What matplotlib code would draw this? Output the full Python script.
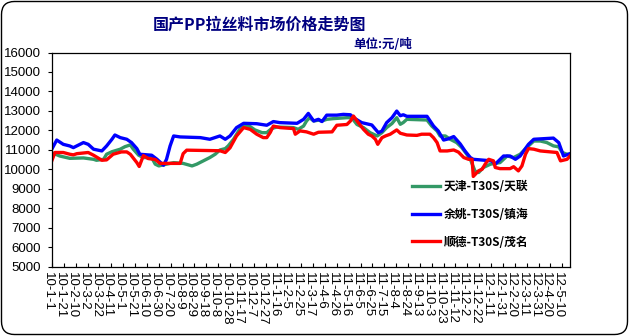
import numpy as np
import matplotlib
matplotlib.use('Agg')
import matplotlib.pyplot as plt
import matplotlib.transforms as mtransforms
from matplotlib.patches import FancyBboxPatch
import pandas as pd

cjk = ['Noto Sans CJK SC', 'DejaVu Sans']

tick_labels = ['10-1-1', '10-1-21', '10-2-10', '10-3-2', '10-3-22', '10-4-11', '10-5-1',
               '10-5-21', '10-6-10', '10-6-30', '10-7-20', '10-8-9', '10-8-29', '10-9-18',
               '10-10-8', '10-10-28', '10-11-17', '10-12-7', '10-12-27', '11-1-16', '11-2-5',
               '11-2-25', '11-3-17', '11-4-6', '11-4-26', '11-5-16', '11-6-5', '11-6-25',
               '11-7-15', '11-8-4', '11-8-24', '11-9-13', '11-10-3', '11-10-23', '11-11-12',
               '11-12-2', '11-12-22', '12-1-11', '12-1-31', '12-2-20', '12-3-11', '12-3-31',
               '12-4-20', '12-5-10']

# 天津 T30S / 天联
tj_dates = ['2010-01-01', '2010-01-14', '2010-01-31', '2010-02-23', '2010-03-12', '2010-03-17',
            '2010-03-29', '2010-04-03', '2010-04-12', '2010-04-26', '2010-05-04', '2010-05-13',
            '2010-05-18', '2010-05-27', '2010-06-04', '2010-06-18', '2010-06-24', '2010-06-30',
            '2010-07-13', '2010-07-25', '2010-08-10', '2010-08-25', '2010-09-02', '2010-09-13',
            '2010-09-24', '2010-10-03', '2010-10-11', '2010-10-20', '2010-10-25', '2010-11-03',
            '2010-11-14', '2010-11-20', '2010-12-01', '2010-12-09', '2010-12-21', '2010-12-29',
            '2011-01-06', '2011-01-15', '2011-02-12', '2011-02-20', '2011-03-01', '2011-03-06',
            '2011-03-11', '2011-03-18', '2011-03-26', '2011-04-01', '2011-04-09', '2011-04-20',
            '2011-05-13', '2011-05-21', '2011-05-30', '2011-06-10', '2011-06-21', '2011-07-03',
            '2011-07-11', '2011-07-19', '2011-07-28', '2011-08-05', '2011-08-11', '2011-08-16',
            '2011-08-22', '2011-09-25', '2011-10-03', '2011-10-12', '2011-10-17', '2011-10-26',
            '2011-11-03', '2011-11-14', '2011-11-23', '2011-12-01', '2011-12-07', '2011-12-15',
            '2011-12-21', '2011-12-29', '2012-01-10', '2012-01-26', '2012-02-07', '2012-02-18',
            '2012-02-29', '2012-03-11', '2012-03-23', '2012-04-03', '2012-04-14', '2012-04-25',
            '2012-05-04', '2012-05-10', '2012-05-18', '2012-05-23']
tj_prices = [10850, 10680, 10560, 10580, 10510, 10460,
             10510, 10770, 10900, 11030, 11160, 11250,
             11030, 10720, 10600, 10600, 10260, 10170,
             10260, 10340, 10300, 10170, 10260, 10430,
             10600, 10770, 10990, 11060, 11200, 11540,
             12090, 12190, 12190, 12020, 11880, 11880,
             12090, 12170, 12140, 12050, 12220, 12480,
             12650, 12480, 12520, 12480, 12565, 12600,
             12650, 12650, 12300, 12140, 11880, 11710,
             11880, 12140, 12350, 12650, 12310, 12400,
             12565, 12530, 12220, 11965, 11710, 11710,
             11540, 11370, 11100, 10770, 10510, 9900,
             9830, 10090, 10260, 10340, 10680, 10600,
             10770, 11110, 11450, 11450, 11370, 11200,
             11150, 10860, 10770, 10770]

# 余姚 T30S / 镇海
yy_dates = ['2010-01-01', '2010-01-09', '2010-01-20', '2010-01-31', '2010-02-06', '2010-02-23',
            '2010-03-03', '2010-03-12', '2010-03-26', '2010-04-03', '2010-04-12', '2010-04-17',
            '2010-04-26', '2010-05-07', '2010-05-15', '2010-05-24', '2010-05-29', '2010-06-18',
            '2010-06-27', '2010-07-08', '2010-07-13', '2010-07-19', '2010-07-25', '2010-08-05',
            '2010-09-08', '2010-09-24', '2010-10-11', '2010-10-20', '2010-10-28', '2010-11-08',
            '2010-11-20', '2010-12-12', '2010-12-29', '2011-01-09', '2011-01-20', '2011-02-18',
            '2011-03-01', '2011-03-09', '2011-03-18', '2011-03-26', '2011-04-01', '2011-04-09',
            '2011-04-26', '2011-05-07', '2011-05-19', '2011-05-24', '2011-06-07', '2011-06-24',
            '2011-07-05', '2011-07-11', '2011-07-19', '2011-07-28', '2011-08-05', '2011-08-11',
            '2011-08-16', '2011-08-22', '2011-09-25', '2011-10-06', '2011-10-14', '2011-10-23',
            '2011-10-31', '2011-11-09', '2011-11-20', '2011-11-28', '2011-12-07', '2011-12-12',
            '2012-01-12', '2012-01-18', '2012-02-01', '2012-02-12', '2012-02-21', '2012-02-29',
            '2012-03-06', '2012-03-14', '2012-03-23', '2012-04-25', '2012-05-04', '2012-05-10',
            '2012-05-12', '2012-05-23']
yy_prices = [11050, 11500, 11280, 11195, 11110, 11370,
             11280, 11030, 10940, 11195, 11540, 11760,
             11625, 11540, 11370, 11060, 10770, 10720,
             10510, 10205, 10510, 11195, 11710, 11660,
             11625, 11540, 11710, 11540, 11710, 12140,
             12360, 12340, 12260, 12450, 12395, 12360,
             12565, 12870, 12480, 12565, 12450, 12780,
             12780, 12820, 12800, 12650, 12395, 12275,
             11880, 11960, 12395, 12650, 12990, 12750,
             12800, 12720, 12720, 12220, 11965, 11500,
             11560, 11680, 11300, 10940, 10600, 10510,
             10430, 10260, 10680, 10680, 10510, 10680,
             10940, 11280, 11540, 11600, 11370, 10860,
             10680, 10800]

# 顺德 T30S / 茂名
sd_dates = ['2010-01-01', '2010-01-06', '2010-01-20', '2010-01-31', '2010-02-06', '2010-02-12',
            '2010-03-03', '2010-03-12', '2010-03-26', '2010-04-03', '2010-04-14', '2010-04-28',
            '2010-05-07', '2010-05-13', '2010-05-24', '2010-05-28', '2010-06-04', '2010-06-12',
            '2010-06-24', '2010-07-02', '2010-08-05', '2010-08-10', '2010-08-16', '2010-10-11',
            '2010-10-20', '2010-10-28', '2010-11-08', '2010-11-20', '2010-12-01', '2010-12-12',
            '2010-12-23', '2010-12-29', '2011-01-04', '2011-01-09', '2011-01-20', '2011-02-12',
            '2011-02-15', '2011-02-23', '2011-03-06', '2011-03-18', '2011-03-26', '2011-04-18',
            '2011-04-26', '2011-05-13', '2011-05-19', '2011-05-24', '2011-06-01', '2011-06-10',
            '2011-06-18', '2011-06-24', '2011-06-30', '2011-07-04', '2011-07-11', '2011-07-17',
            '2011-07-25', '2011-08-05', '2011-08-11', '2011-08-22', '2011-09-08', '2011-09-16',
            '2011-09-30', '2011-10-06', '2011-10-12', '2011-10-17', '2011-10-29', '2011-11-09',
            '2011-11-17', '2011-11-26', '2011-12-04', '2011-12-10', '2011-12-12', '2011-12-21',
            '2011-12-27', '2012-01-01', '2012-01-07', '2012-01-15', '2012-01-18', '2012-01-26',
            '2012-02-12', '2012-02-18', '2012-02-26', '2012-03-03', '2012-03-09', '2012-03-14',
            '2012-03-23', '2012-04-03', '2012-05-01', '2012-05-07', '2012-05-18', '2012-05-23']
sd_prices = [10460, 10860, 10860, 10770, 10740, 10800,
             10860, 10720, 10460, 10480, 10770, 10890,
             10890, 10770, 10340, 10140, 10700, 10550,
             10500, 10300, 10300, 10800, 10980, 10950,
             10860, 11100, 11710, 12140, 12050, 11800,
             11625, 11625, 11900, 12220, 12140, 12090,
             11800, 11970, 11920, 11800, 11900, 11920,
             12260, 12300, 12480, 12735, 12400, 12050,
             11800, 11710, 11540, 11280, 11620, 11710,
             11800, 12020, 11850, 11760, 11740, 11800,
             11800, 11620, 11370, 10940, 10940, 10990,
             10880, 10600, 10510, 10510, 9630, 9920,
             10000, 10260, 10510, 10430, 10090, 10030,
             10030, 10130, 9915, 10170, 10770, 11060,
             11030, 10940, 10860, 10430, 10510, 10680]

start = pd.Timestamp('2010-01-01')


def to_days(dates):
    return np.array([(pd.Timestamp(d) - start).days for d in dates])


tick_days = [(pd.Timestamp('20' + s) - start).days for s in tick_labels]

fig = plt.figure(figsize=(6.29, 3.36), dpi=100)
ax = fig.add_axes([52 / 629, 1 - 266.5 / 336, 518 / 629, 214 / 336])

ax.plot(to_days(tj_dates), tj_prices, color='#339966', lw=2.4, label='天津-T30S/天联')
ax.plot(to_days(yy_dates), yy_prices, color='#0000FF', lw=2.4, label='余姚-T30S/镇海')
ax.plot(to_days(sd_dates), sd_prices, color='#FF0000', lw=2.4, label='顺德-T30S/茂名')

ax.set_xlim(0, 873)
ax.set_ylim(5000, 16000)
ax.set_yticks(np.arange(5000, 16001, 1000))
ax.set_xticks(tick_days)
ax.set_xticklabels(tick_labels, rotation=-90, fontsize=9.5, family='Liberation Sans')
for lab in ax.get_yticklabels():
    lab.set_family('Liberation Sans')
    lab.set_fontsize(9.5)
ax.tick_params(axis='x', direction='in', length=3, width=0.8, pad=4)
ax.tick_params(axis='y', direction='out', length=3, width=0.8, pad=5)

# nudge date labels a little to the left
shift = mtransforms.ScaledTranslation(-0.04, 0, fig.dpi_scale_trans)
for lab in ax.get_xticklabels():
    lab.set_transform(lab.get_transform() + shift)

for sp in ax.spines.values():
    sp.set_linewidth(0.9)
    sp.set_color('black')

ax.legend(loc='upper left', bbox_to_anchor=(412 / 629, 1 - 180 / 336), bbox_transform=fig.transFigure,
          frameon=False, borderpad=0, borderaxespad=0, handlelength=2.4, handletextpad=0.3,
          labelspacing=1.25, prop=dict(family=cjk, weight='bold', size=8.5))

fig.text(260 / 629, 1 - 25 / 336, '国产PP拉丝料市场价格走势图', ha='center', va='center',
         color='#000080', fontsize=11.5, fontweight='bold', family=cjk)
fig.text(353 / 629, 1 - 45 / 336, '单位:元/吨', ha='left', va='center',
         color='#000080', fontsize=9, fontweight='bold', family=cjk)

border = FancyBboxPatch((0.015, 0.015), 6.26, 3.33, boxstyle='round,pad=0,rounding_size=0.13',
                        transform=fig.dpi_scale_trans, fill=False, edgecolor='black', lw=1)
fig.patches.append(border)

fig.savefig('out.png', dpi=100)
